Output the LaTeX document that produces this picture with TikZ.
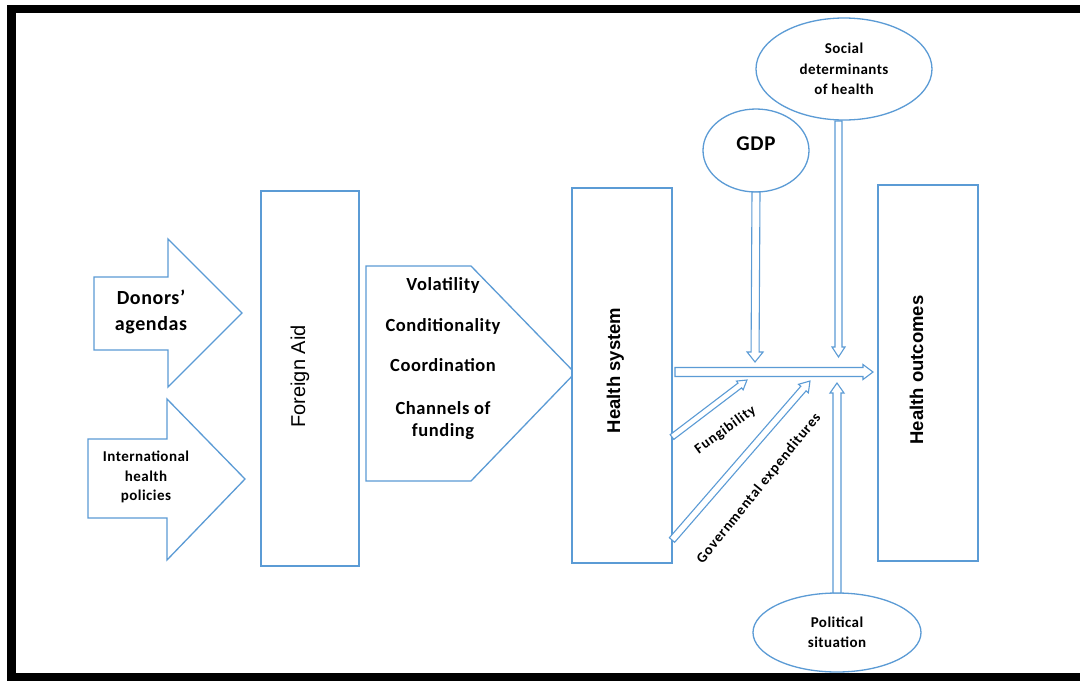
\documentclass[tikz,border=0pt]{standalone}
\usepackage{fontspec}
\setmainfont{Carlito}
\newfontfamily\arialfont{Liberation Sans}
\usetikzlibrary{shapes.geometric,calc}
\definecolor{aidblue}{HTML}{5B9BD5}
\tikzset{
  outl/.style={draw=aidblue, line width=1.3pt, fill=white},
  colbox/.style={outl, rectangle, inner sep=0pt, outer sep=0pt, rotate=90},
  oval/.style={outl, ellipse, inner sep=0pt, outer sep=0pt, align=center,
    font=\bfseries\fontsize{15}{20.5}\selectfont\addfontfeature{LetterSpace=3}},
  lbl/.style={inner sep=0pt, align=center},
  arr/.style={draw=aidblue, line width=1.1pt, fill=white, line join=miter},
  slanted/.style={lbl, font=\bfseries\fontsize{14.5}{16}\selectfont\addfontfeature{LetterSpace=6}},
}
\newcommand{\hollowarrow}[5]{%
  \draw[arr] let \p1=(#1), \p2=(#2), \n1={atan2(\y2-\y1,\x2-\x1)},
    \n2={veclen(\x2-\x1,\y2-\y1)} in
    [shift={(\p1)}, rotate=\n1] (0,-#3) -- (\n2-#5,-#3) -- (\n2-#5,-#4) -- (\n2,0)
    -- (\n2-#5,#4) -- (\n2-#5,#3) -- (0,#3) -- cycle;}
\begin{document}
\begin{tikzpicture}[x=1pt,y=-1pt]
\useasboundingbox (0,0) rectangle (1080,681);
\fill[white] (0,0) rectangle (1080,681);
% black frame
\draw[line width=8.5pt, line cap=butt, line join=miter] (1080,9) -- (11.5,9) -- (11.5,677) -- (1080,677);

% input block arrows
\draw[outl, line join=miter] (94,277) -- (168,277) -- (168,239) -- (242,313) -- (168,387) -- (168,350) -- (94,350) -- cycle;
\node[lbl, font=\bfseries\fontsize{20}{26}\selectfont\addfontfeature{LetterSpace=3}] (donors) at (151,312) {Donors’\\agendas};
\draw[outl, line join=miter] (88,439) -- (167,439) -- (167,399) -- (245,479) -- (167,560) -- (167,518) -- (88,518) -- cycle;
\node[lbl, font=\bfseries\fontsize{15}{19.5}\selectfont\addfontfeature{LetterSpace=3}] (intl) at (146,477) {International\\health\\policies};

% main boxes
\node[colbox, minimum width=375pt, minimum height=98pt, text height=14.3pt, text depth=24.3pt,
  font=\arialfont\fontsize{20}{24}\selectfont] (fa) at (310,378.5) {\hspace*{4pt}Foreign Aid};
\draw[outl, line join=miter] (366,266) -- (471,266) -- (575,373) -- (471,481) -- (366,481) -- cycle;
\node[lbl, font=\bfseries\fontsize{18.5}{22}\selectfont\addfontfeature{LetterSpace=3}] (factors) at (443,358.5)
  {Volatility\\[19pt]Conditionality\\[18pt]Coordination\\[21pt]Channels of\\funding};
\node[colbox, minimum width=375pt, minimum height=100pt, text height=13.2pt, text depth=17pt,
  font=\arialfont\bfseries\fontsize{18.5}{22}\selectfont] (hs) at (622,375.5) {\hspace*{10pt}Health system};
\node[colbox, minimum width=376pt, minimum height=100pt, text height=13.3pt, text depth=23.3pt,
  font=\arialfont\bfseries\fontsize{18.5}{22}\selectfont] (ho) at (928,373) {\hspace*{6pt}Health outcomes};

% ellipses
\node[oval, minimum width=176pt, minimum height=102pt] (soc) at (844,69) {Social\\determinants\\of health};
\node[oval, minimum width=106pt, minimum height=83pt, text depth=14pt,
  font=\bfseries\fontsize{21}{24}\selectfont\addfontfeature{LetterSpace=3}] (gdp) at (756,150.5) {GDP};
\node[oval, minimum width=168pt, minimum height=79pt] (pol) at (837,632.5) {Political\\situation};

% arrow ends
\coordinate (gdptip) at (755,362);
\coordinate (socstart) at (838.5,121);
\coordinate (soctip) at (838.5,357);
\coordinate (poltip) at (837,383);
\coordinate (hsout) at ($(hs.south)+(3,-3.5)$);
\coordinate (hotip) at ($(ho.north)+(-5,-1)$);
\coordinate (fungstart) at ($(hs.south)+(0,61.5)$);
\coordinate (fungtip) at (747,380);
\coordinate (govstart) at ($(hs.south)+(0,164.5)$);
\coordinate (govtip) at (810,381);

% hollow arrows
\hollowarrow{gdp.south}{gdptip}{4}{8}{10}
\hollowarrow{socstart}{soctip}{3.5}{6.5}{10}
\hollowarrow{pol.north}{poltip}{4}{7}{10}
\hollowarrow{hsout}{hotip}{4.5}{7.5}{10}
\hollowarrow{fungstart}{fungtip}{3}{5.5}{9}
\hollowarrow{govstart}{govtip}{3.5}{6.5}{10}

% arrow labels
\node[slanted, rotate=36] (fung) at (725.5,430) {Fungibility};
\node[slanted, rotate=51] (gov) at (759,488.5) {Governmental expenditures};
\end{tikzpicture}
\end{document}
